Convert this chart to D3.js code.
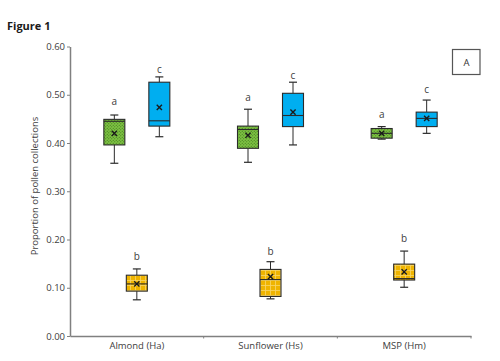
<!DOCTYPE html>
<html><head><meta charset="utf-8">
<script src="https://cdn.jsdelivr.net/npm/d3@7"></script>
<style>body{margin:0;background:#fff}svg{display:block}text{font-family:"Open Sans","Noto Sans",sans-serif}</style>
</head><body>
<svg id="c" width="500" height="361"></svg>
<script>
const categories = ["Almond (Ha)", "Sunflower (Hs)", "MSP (Hm)"];
const seriesNames = ["green", "yellow", "blue"];
const yTicks = [0, 0.1, 0.2, 0.3, 0.4, 0.5, 0.6];
// [whiskerLow, q1, median, q3, whiskerHigh, mean] per category
const greenStats = [
  [0.358, 0.396, 0.445, 0.449, 0.458, 0.420],
  [0.360, 0.389, 0.428, 0.435, 0.470, 0.416],
  [0.408, 0.410, 0.420, 0.430, 0.434, 0.420]
];
const yellowStats = [
  [0.075, 0.093, 0.108, 0.126, 0.139, 0.108],
  [0.077, 0.082, 0.117, 0.138, 0.154, 0.123],
  [0.101, 0.116, 0.119, 0.149, 0.176, 0.133]
];
const blueStats = [
  [0.413, 0.435, 0.446, 0.526, 0.537, 0.474],
  [0.396, 0.434, 0.457, 0.503, 0.526, 0.464],
  [0.420, 0.434, 0.451, 0.464, 0.489, 0.451]
];
const greenLetters = ["a", "a", "a"];
const yellowLetters = ["b", "b", "b"];
const blueLetters = ["c", "c", "c"];
const greenLetterY = [0.479, 0.487, 0.452];
const yellowLetterY = [0.157, 0.167, 0.194];
const blueLetterY = [0.546, 0.533, 0.504];

const svg = d3.select("#c");
const x = d3.scaleBand().domain(categories).range([70, 471]).padding(0);
const y = d3.scaleLinear().domain([0, 0.6]).range([336, 46.5]);
const off = d3.scaleOrdinal().domain(seriesNames).range([-22.5, 0, 22.5]);
const boxW = 21;

const defs = svg.append("defs");
const pg = defs.append("pattern").attr("id", "pGreen").attr("patternUnits", "userSpaceOnUse").attr("width", 3).attr("height", 3);
pg.append("rect").attr("width", 3).attr("height", 3).attr("fill", "#7cc242");
pg.append("circle").attr("cx", 0.75).attr("cy", 0.75).attr("r", 0.55).attr("fill", "#3e6e1c");
pg.append("circle").attr("cx", 2.25).attr("cy", 2.25).attr("r", 0.55).attr("fill", "#3e6e1c");
const py = defs.append("pattern").attr("id", "pYellow").attr("patternUnits", "userSpaceOnUse").attr("width", 5).attr("height", 5);
py.append("rect").attr("width", 5).attr("height", 5).attr("fill", "#efb400");
py.append("path").attr("d", "M0,0.5H5M0.5,0V5").attr("stroke", "#f7d66a").attr("stroke-width", 0.8);

// y axis
const yAxis = d3.axisLeft(y).tickValues(yTicks).tickFormat(d3.format(".2f")).tickSize(3).tickSizeOuter(0);
const gy = svg.append("g").attr("transform", "translate(70,0)").call(yAxis);
gy.select(".domain").attr("stroke", "#808080").attr("stroke-width", 1.5);
gy.selectAll(".tick line").attr("stroke", "#808080");
gy.selectAll(".tick text").attr("font-size", 9.5).attr("fill", "#404040").attr("x", -5).attr("font-family", "Open Sans");

// x axis
const xAxis = d3.axisBottom(x).tickSize(0).tickSizeOuter(0);
const gx = svg.append("g").attr("transform", "translate(0,336)").call(xAxis);
gx.select(".domain").attr("stroke", "#808080").attr("stroke-width", 1.5);
gx.selectAll(".tick text").attr("font-size", 9.5).attr("fill", "#404040").attr("dy", "1.1em").attr("font-family", "Open Sans");
svg.append("g").selectAll("line").data(categories.slice(1).concat(["end"])).join("line")
  .attr("x1", (d, i) => i < 2 ? x(categories[i + 1]) : 471).attr("x2", (d, i) => i < 2 ? x(categories[i + 1]) : 471)
  .attr("y1", 336).attr("y2", 338.5).attr("stroke", "#808080");

const series = [
  {name: "green", stats: greenStats, fill: "url(#pGreen)", letters: greenLetters, ly: greenLetterY},
  {name: "yellow", stats: yellowStats, fill: "url(#pYellow)", letters: yellowLetters, ly: yellowLetterY},
  {name: "blue", stats: blueStats, fill: "#00aef0", letters: blueLetters, ly: blueLetterY}
];

series.forEach(s => {
  categories.forEach((c, i) => {
    const [lo, q1, med, q3, hi, mean] = s.stats[i];
    const cx = x(c) + x.bandwidth() / 2 + off(s.name);
    const g = svg.append("g");
    const st = "#2b2b2b";
    g.append("line").attr("x1", cx).attr("x2", cx).attr("y1", y(hi)).attr("y2", y(q3)).attr("stroke", st);
    g.append("line").attr("x1", cx).attr("x2", cx).attr("y1", y(q1)).attr("y2", y(lo)).attr("stroke", st);
    g.append("line").attr("x1", cx - 4).attr("x2", cx + 4).attr("y1", y(hi)).attr("y2", y(hi)).attr("stroke", st).attr("stroke-width", 1.2);
    g.append("line").attr("x1", cx - 4).attr("x2", cx + 4).attr("y1", y(lo)).attr("y2", y(lo)).attr("stroke", st).attr("stroke-width", 1.2);
    g.append("rect").attr("x", cx - boxW / 2).attr("y", y(q3)).attr("width", boxW).attr("height", y(q1) - y(q3))
      .attr("fill", s.fill).attr("stroke", st).attr("stroke-width", 1.1);
    g.append("line").attr("x1", cx - boxW / 2).attr("x2", cx + boxW / 2).attr("y1", y(med)).attr("y2", y(med)).attr("stroke", st).attr("stroke-width", 1.1);
    const my = y(mean), m = 2.6;
    g.append("path").attr("d", `M${cx - m},${my - m}L${cx + m},${my + m}M${cx - m},${my + m}L${cx + m},${my - m}`)
      .attr("stroke", "#1a1a1a").attr("stroke-width", 1.4);
    svg.append("text").attr("x", cx).attr("y", y(s.ly[i])).attr("text-anchor", "middle")
      .attr("font-size", 10).attr("fill", "#404040").text(s.letters[i]);
  });
});

// y label
svg.append("text").attr("transform", "translate(38,186) rotate(-90)").attr("text-anchor", "middle")
  .attr("font-size", 9.5).attr("fill", "#404040").text("Proportion of pollen collections");

// title
svg.append("text").attr("x", 7).attr("y", 30).attr("font-size", 11).attr("font-weight", "bold").attr("fill", "#1a1a1a").text("Figure 1");

// panel label
svg.append("rect").attr("x", 452.5).attr("y", 49.5).attr("width", 27.5).attr("height", 25).attr("fill", "#fff").attr("stroke", "#555").attr("stroke-width", 1.2);
svg.append("text").attr("x", 466.5).attr("y", 65.5).attr("text-anchor", "middle").attr("font-size", 9.5).attr("fill", "#333").text("A");
</script>
</body></html>
